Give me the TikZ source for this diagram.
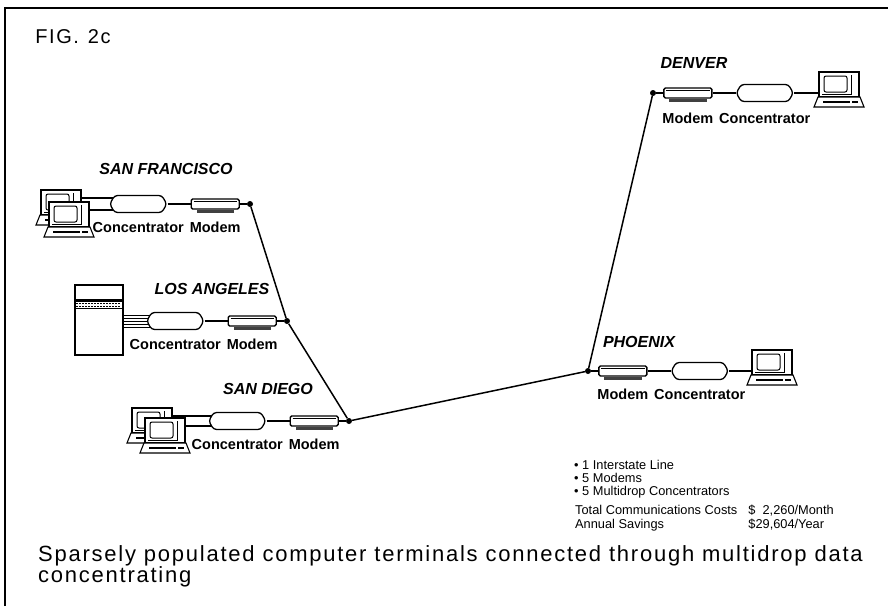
\documentclass[tikz,border=0pt]{standalone}
\usepackage{fontspec}
\setmainfont{Liberation Sans}
\newfontfamily\capfont[LetterSpace=8]{Liberation Sans}
\usetikzlibrary{positioning,shapes.symbols,backgrounds}

\newcommand{\modemfoot}[1]{%
  \fill[black!75] ([xshift=6pt]#1.south west) rectangle ([xshift=-6pt,yshift=-3pt]#1.south east);
  \draw[line width=0.5pt] ([shift={(3pt,-2.5pt)}]#1.north west) -- ([shift={(-3pt,-2.5pt)}]#1.north east);
}

\tikzset{
  conc/.style={signal, signal to=east and west, signal pointer angle=120,
    draw, fill=white, line width=1.3pt, rounded corners=3pt,
    minimum width=57pt, minimum height=17pt, inner sep=0pt},
  modem/.style={rectangle, draw, fill=white, line width=1.3pt, rounded corners=1.5pt,
    minimum width=48pt, minimum height=10pt, inner sep=0pt},
  junction/.style={circle, fill, inner sep=0pt, minimum size=6pt},
  dev/.style={font=\fontsize{14.5}{16}\selectfont\bfseries, inner sep=0pt},
  city/.style={font=\fontsize{16}{18}\selectfont\bfseries\itshape, inner sep=0pt},
  link/.style={line width=1.5pt},
  cable/.style={line width=1.2pt},
  terminal/.pic={
    % monitor
    \draw[fill=white, line width=1.1pt] (-20,-25) rectangle (20,0);
    \draw[line width=1pt, rounded corners=2pt] (-15,-21) rectangle (8,-5);
    \draw[line width=0.6pt] (12,-22) -- (12,-3) -- (-17,-3);
    % keyboard
    \draw[fill=white, line width=1.1pt] (-21,0) -- (21,0) -- (25,10) -- (-25,10) -- cycle;
    \fill (-16,3.5) rectangle (11,6);
    \fill (13,3.5) rectangle (19,6);
    \coordinate (-east) at (20,-17);
    \coordinate (-west) at (-20,-4);
  }
}

\begin{document}
\begin{tikzpicture}[x=1pt,y=-1pt]
  \useasboundingbox (0,0) rectangle (888,606);
  \draw[line width=1.5pt] (5,606) -- (5,8) -- (888,8);
  \node[font=\fontsize{20}{22}\capfont, inner sep=0pt] (fig) at (73,37) {FIG.\hspace{9pt}2c};

  % junctions on the line
  \node[junction] (sfj) at (250,204) {};
  \node[junction] (laj) at (287,321) {};
  \node[junction] (sdj) at (349,421) {};
  \node[junction] (phj) at (588,371) {};
  \node[junction] (dnj) at (653,93) {};
  \draw[link] (sfj) -- (laj) -- (sdj) -- (phj) -- (dnj);

  % San Francisco
  \node[city] (sfname) at (166,169) {SAN FRANCISCO};
  \node[modem, left=7pt of sfj] (sfm) {};
  \modemfoot{sfm}
  \node[conc, left=23pt of sfm] (sfc) {};
  \pic (sfb) at (61,215) {terminal};
  \pic (sff) at (69,227) {terminal};
  \node[dev, below=9pt of sfc] (sfcl) {Concentrator};
  \node[dev, anchor=base] (sfml) at (sfm |- sfcl.base) {Modem};

  % Los Angeles
  \node[city] (laname) at (212,289) {LOS ANGELES};
  \node[modem, left=7pt of laj] (lam) {};
  \modemfoot{lam}
  \node[conc, left=23pt of lam] (lac) {};
  \node[draw, fill=white, line width=1.1pt, minimum width=48pt, minimum height=70pt] (lah) at (99,320) {};
  \fill ([yshift=-15pt]lah.north west) rectangle ([yshift=-17.5pt]lah.north east);
  \foreach \x in {2,5,...,46}{
    \draw[line width=0.8pt] ([xshift=\x pt, yshift=-19pt]lah.north west) -- ++(2,0);
    \draw[line width=0.8pt] ([xshift=\x pt, yshift=-21.5pt]lah.north west) -- ++(1.5,0);
  }
  \draw[line width=0.9pt] ([yshift=-24pt]lah.north west) -- ([yshift=-24pt]lah.north east);
  \node[dev, below=9pt of lac] (lacl) {Concentrator};
  \node[dev, anchor=base] (laml) at (lam |- lacl.base) {Modem};

  % San Diego
  \node[city] (sdname) at (268,389) {SAN DIEGO};
  \node[modem, left=7pt of sdj] (sdm) {};
  \modemfoot{sdm}
  \node[conc, left=23pt of sdm] (sdc) {};
  \pic (sdb) at (152,433) {terminal};
  \pic (sdf) at (165,443) {terminal};
  \node[dev, below=9pt of sdc] (sdcl) {Concentrator};
  \node[dev, anchor=base] (sdml) at (sdm |- sdcl.base) {Modem};

  % Denver
  \node[city] (dnname) at (694,63) {DENVER};
  \node[modem, right=7pt of dnj] (dnm) {};
  \modemfoot{dnm}
  \node[conc, right=23pt of dnm] (dnc) {};
  \pic (dnt) at (839,97) {terminal};
  \node[dev, below=11pt of dnc] (dncl) {Concentrator};
  \node[dev, anchor=base] (dnml) at (dnm |- dncl.base) {Modem};

  % Phoenix
  \node[city] (phname) at (639,342) {PHOENIX};
  \node[modem, right=7pt of phj] (phm) {};
  \modemfoot{phm}
  \node[conc, right=23pt of phm] (phc) {};
  \pic (pht) at (772,375) {terminal};
  \node[dev, below=9pt of phc] (phcl) {Concentrator};
  \node[dev, anchor=base] (phml) at (phm |- phcl.base) {Modem};

  % short runs between the boxes
  \draw[cable] (sfc.east) -- (sfm.west);
  \draw[cable] (sfm.east) -- (sfj);
  \draw[cable] (lac.east) -- (lam.west);
  \draw[cable] (lam.east) -- (laj);
  \draw[cable] (sdc.east) -- (sdm.west);
  \draw[cable] (sdm.east) -- (sdj);
  \draw[cable] (dnj) -- (dnm.west);
  \draw[cable] (dnm.east) -- (dnc.west);
  \draw[cable] (dnc.east) -- (dnc.east -| dnt-west);
  \draw[cable] (phj) -- (phm.west);
  \draw[cable] (phm.east) -- (phc.west);
  \draw[cable] (phc.east) -- (phc.east -| pht-west);
  \begin{scope}[on background layer]
    \draw[cable] (sfb-east) -- (sfb-east -| sfc.center);
    \draw[cable] (sff-east) -- (sff-east -| sfc.center);
    \draw[cable] (sdb-east) -- (sdb-east -| sdc.center);
    \draw[cable] (sdf-east) -- (sdf-east -| sdc.center);
    \foreach \dy in {-6,-3,0,3,6}
      \draw[line width=0.6pt] ([yshift=\dy pt]lac.center -| lah.east) -- ([yshift=\dy pt]lac.center);
  \end{scope}

  % totals
  \node[anchor=north west, align=left, inner sep=0pt, font=\fontsize{12.8}{12.8}\selectfont] (facts) at (574,460)
    {\textbullet\ 1 Interstate Line\\ \textbullet\ 5 Modems\\ \textbullet\ 5 Multidrop Concentrators};
  \node[anchor=north west, inner sep=0pt, font=\fontsize{12.8}{12.8}\selectfont] (costs) at (575,505)
    {\begin{tabular}{@{}l@{\hspace{11pt}}l@{}}
      Total Communications Costs & \$\phantom{2}2,260/Month\\
      Annual Savings & \$29,604/Year
    \end{tabular}};

  \node[anchor=north west, align=left, inner sep=0pt, font=\fontsize{22}{21}\capfont] (caption) at (38,545)
    {Sparsely populated computer terminals connected through multidrop data\\concentrating};
\end{tikzpicture}
\end{document}
